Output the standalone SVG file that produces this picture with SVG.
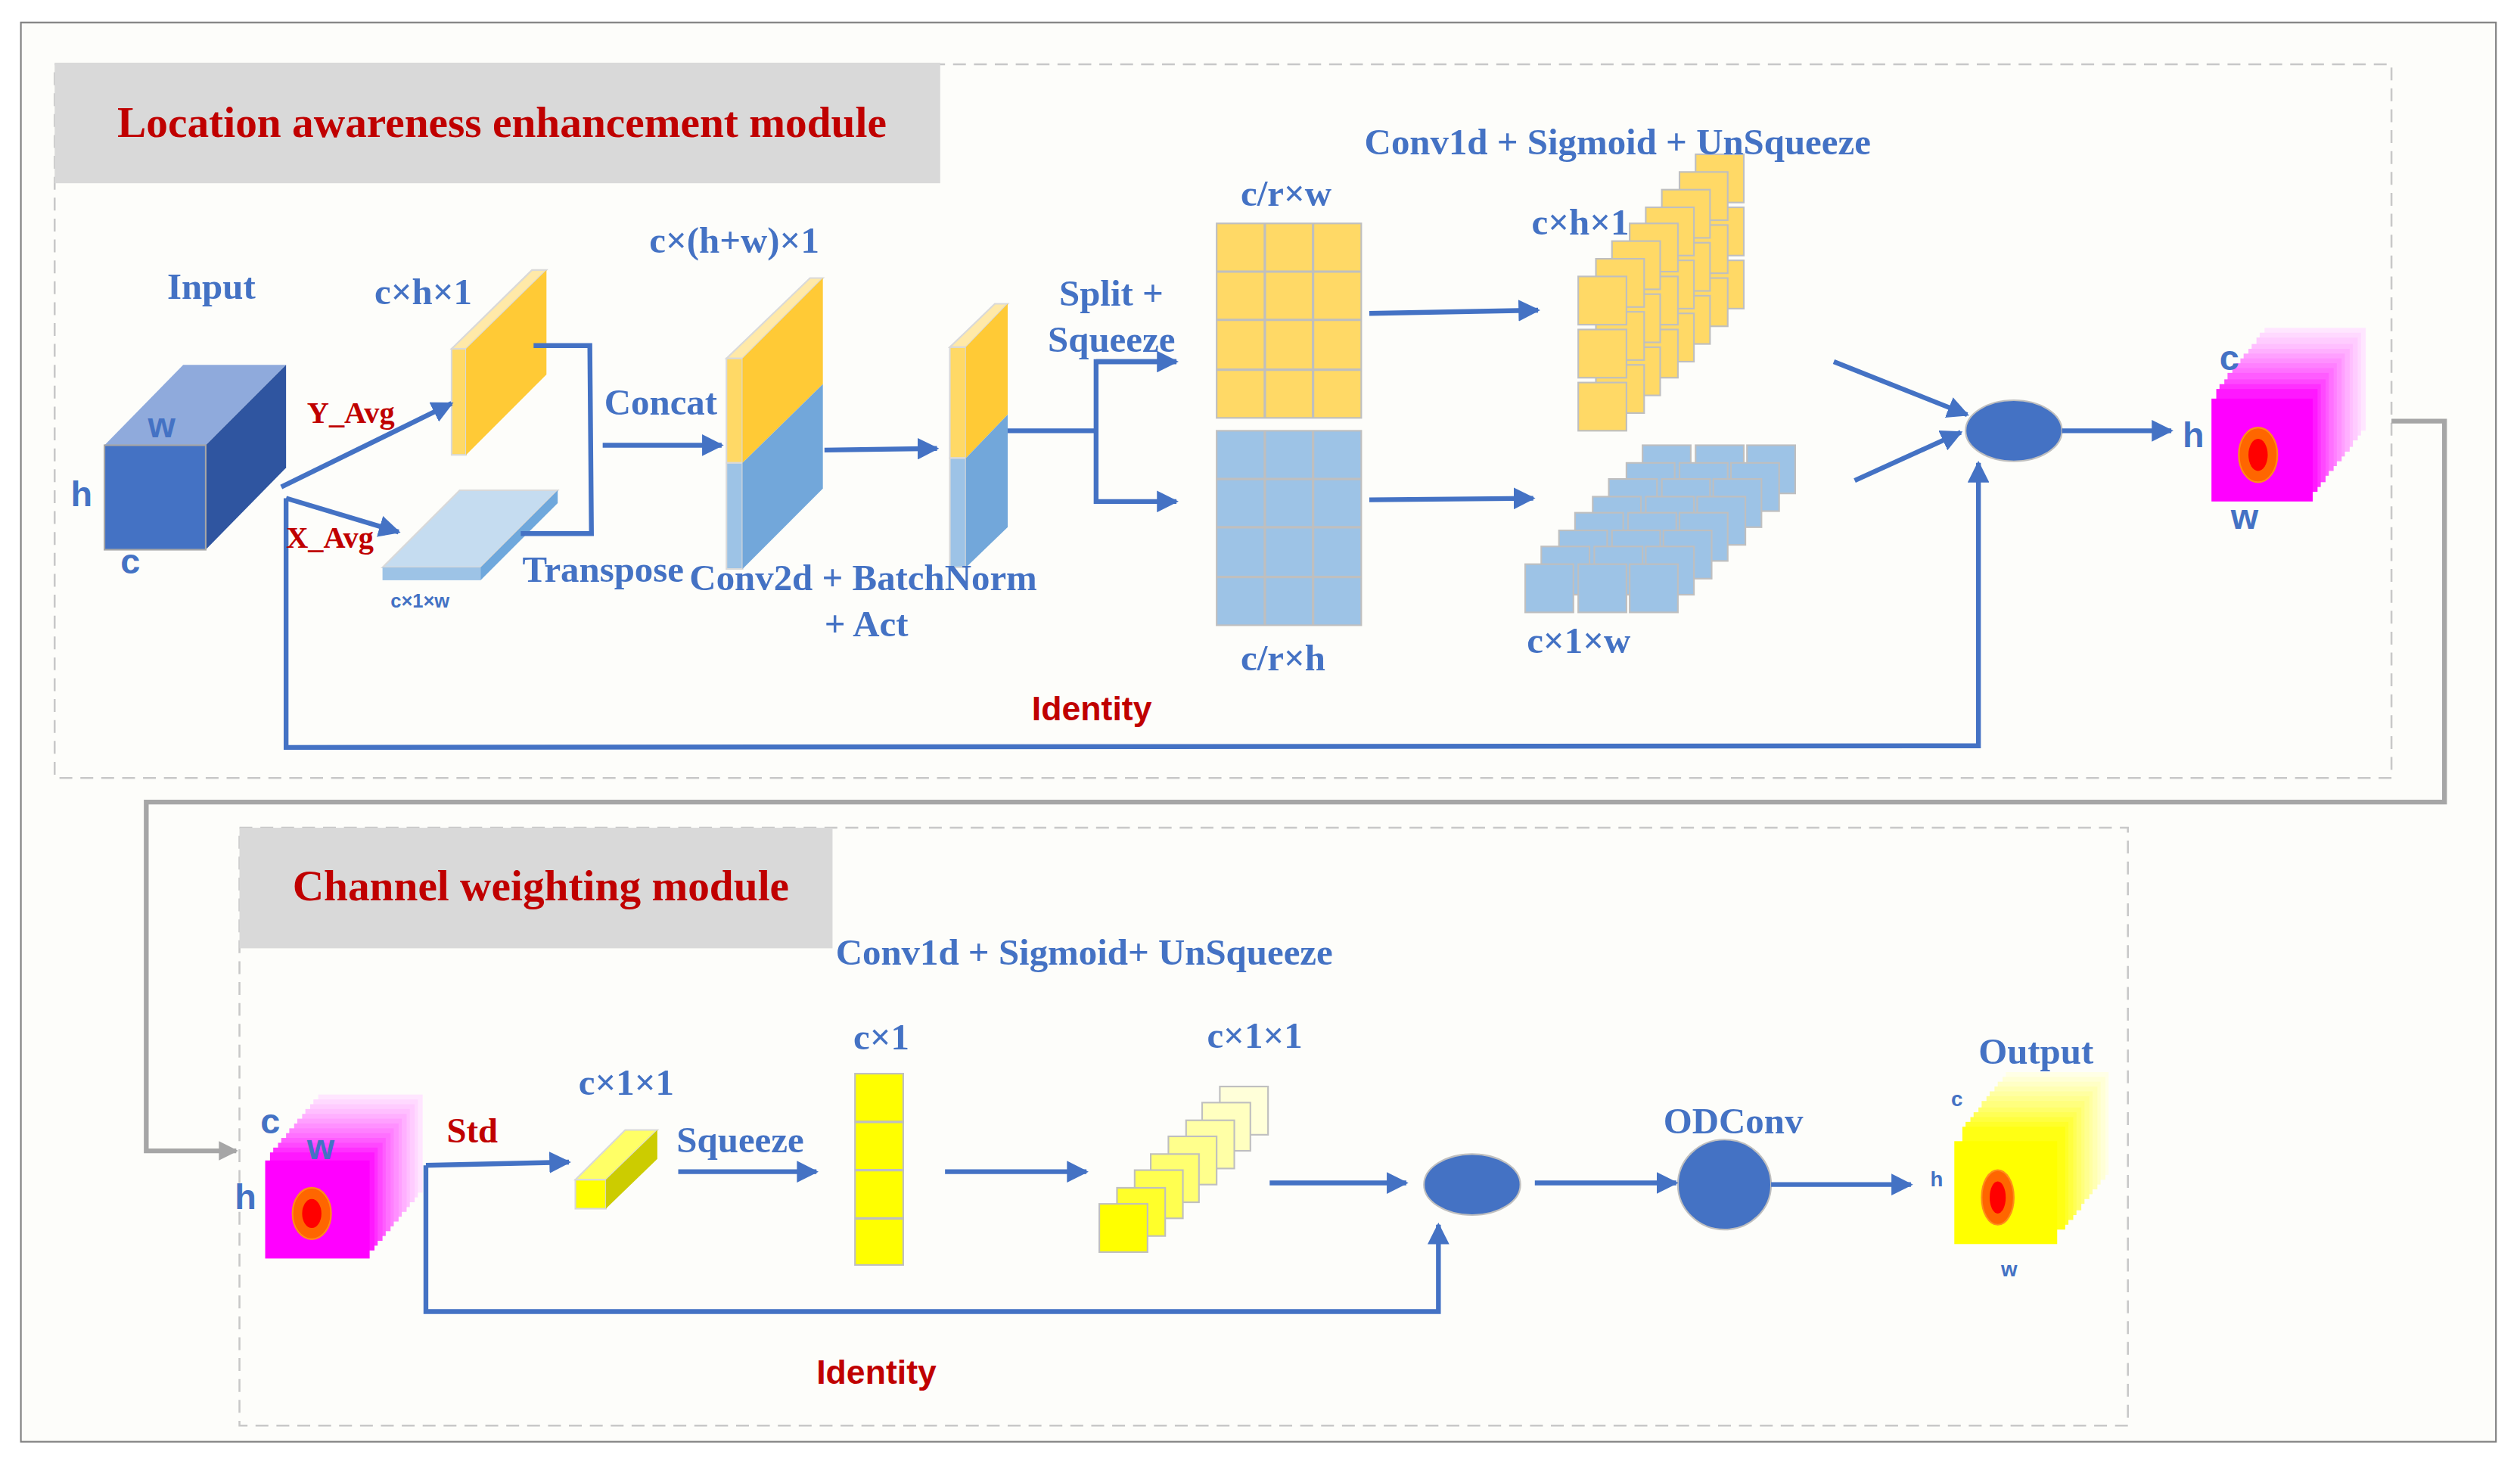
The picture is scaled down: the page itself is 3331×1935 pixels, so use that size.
<svg xmlns="http://www.w3.org/2000/svg" xmlns:xlink="http://www.w3.org/1999/xlink" width="3331" height="1935" viewBox="0 0 3331 1935">
<defs>
<marker id="ah" viewBox="0 0 10 10" refX="9" refY="5" markerWidth="4.5" markerHeight="4.5" orient="auto" markerUnits="strokeWidth"><path d="M0,0 L10,5 L0,10 z" fill="#4472C4"/></marker>
<marker id="ag" viewBox="0 0 10 10" refX="9" refY="5" markerWidth="4" markerHeight="4" orient="auto" markerUnits="strokeWidth"><path d="M0,0 L10,5 L0,10 z" fill="#A6A6A6"/></marker>
<style>
.b{font-family:"Liberation Serif",serif;font-weight:bold;fill:#4472C4;font-size:23px}
.r{font-family:"Liberation Serif",serif;font-weight:bold;fill:#C00000}
.s{font-family:"Liberation Sans",sans-serif;font-weight:bold;fill:#4472C4}
.ln{fill:none;stroke:#4472C4;stroke-width:3}
.dash{fill:none;stroke:#C8C8C8;stroke-width:1.2;stroke-dasharray:8 5}
.yc{fill:#FFD966;stroke:#BFBFBF;stroke-width:1}
.bc{fill:#9DC3E6;stroke:#BFBFBF;stroke-width:1}
</style>
<g id="ycol"><rect class="yc" x="0" y="0" width="30" height="30"/><rect class="yc" x="0" y="33" width="30" height="30"/><rect class="yc" x="0" y="66" width="30" height="30"/></g>
<g id="brow"><rect class="bc" x="0" y="0" width="30" height="30"/><rect class="bc" x="33" y="0" width="30" height="30"/><rect class="bc" x="65" y="0" width="30" height="30"/></g>
</defs>
<rect width="3331" height="1935" fill="#FFFFFF"/>
<g transform="scale(2.1244)">
<rect x="13" y="14" width="1540" height="883" fill="#FDFDFA" stroke="#7F7F7F" stroke-width="1"/>
<rect class="dash" x="34" y="40" width="1454" height="444"/>
<rect class="dash" x="149" y="515" width="1175" height="372"/>
<g id="title1"><rect x="34" y="39" width="551" height="75" fill="#D9D9D9"/><text class="r" x="73" y="85" font-size="27">Location awareness enhancement module</text></g>
<g id="title2"><rect x="149" y="515" width="369" height="75" fill="#D9D9D9"/><text class="r" x="182" y="560" font-size="27">Channel weighting module</text></g>

<g id="input">
<polygon points="65,277 114,227 178,227 128,277" fill="#8FAADC"/>
<polygon points="128,277 178,227 178,291 128,342" fill="#2F55A0"/>
<rect x="65" y="277" width="63" height="65" fill="#4472C4" stroke="#A6A6A6" stroke-width="1"/>
<text class="s" x="92" y="272" font-size="22">w</text><text class="s" x="44" y="315" font-size="22">h</text><text class="s" x="75" y="357" font-size="22">c</text>
<text class="b" x="104" y="186">Input</text>
</g>
<g id="plateY">
<polygon points="281,217 331,168 340,168 290,217" fill="#FFE9A8" stroke="#D9D9D9"/>
<rect x="281" y="217" width="9" height="66" fill="#FFD966" stroke="#D9D9D9"/>
<polygon points="290,217 340,168 340,233 290,283" fill="#FFCA36"/>
<text class="b" x="233" y="189">c×h×1</text>
</g>
<g id="slabX">
<polygon points="238,353 286,305 347,305 299,353" fill="#C5DCF0" stroke="#D9D9D9"/>
<rect x="238" y="353" width="61" height="8" fill="#9DC3E6"/>
<polygon points="299,353 347,305 347,313 299,361" fill="#6FA8DC"/>
<text class="s" x="243" y="378" font-size="12">c×1×w</text>
</g>
<g id="concat">
<polygon points="452,223 504,173 512,173 462,223" fill="#FFE9A8" stroke="#D9D9D9"/>
<rect x="452" y="223" width="10" height="65" fill="#FFD966" stroke="#D9D9D9"/>
<rect x="452" y="288" width="10" height="66" fill="#9DC3E6" stroke="#D9D9D9"/>
<polygon points="462,223 512,173 512,239 462,288" fill="#FFCA36"/>
<polygon points="462,288 512,239 512,304 462,354" fill="#72A7DA"/>
<text class="b" x="404" y="157">c×(h+w)×1</text>
</g>
<g id="conv2d">
<polygon points="591,216 619,189 627,189 601,216" fill="#FFE9A8" stroke="#D9D9D9"/>
<rect x="591" y="216" width="10" height="69" fill="#FFD966" stroke="#D9D9D9"/>
<rect x="591" y="285" width="10" height="68" fill="#9DC3E6" stroke="#D9D9D9"/>
<polygon points="601,216 627,189 627,258 601,285" fill="#FFCA36"/>
<polygon points="601,285 627,258 627,328 601,353" fill="#72A7DA"/>
<text class="b" x="429" y="367">Conv2d + BatchNorm</text><text class="b" x="513" y="396">+ Act</text>
</g>
<g id="gridY">
<rect x="757" y="139" width="90" height="121" fill="#FFD966" stroke="#BFBFBF"/>
<path d="M787,139V260M817,139V260M757,169H847M757,199H847M757,230H847" stroke="#BFBFBF" stroke-width="1.5"/>
<text class="b" x="772" y="128">c/r×w</text>
</g>
<g id="gridB">
<rect x="757" y="268" width="90" height="121" fill="#9DC3E6" stroke="#BFBFBF"/>
<path d="M787,268V389M817,268V389M757,298H847M757,328H847M757,359H847" stroke="#BFBFBF" stroke-width="1.5"/>
<text class="b" x="772" y="417">c/r×h</text>
</g>
<g id="stackY">
<use xlink:href="#ycol" x="1055" y="96"/><use xlink:href="#ycol" x="1045" y="107"/><use xlink:href="#ycol" x="1034" y="118"/><use xlink:href="#ycol" x="1024" y="129"/><use xlink:href="#ycol" x="1014" y="139"/><use xlink:href="#ycol" x="1003" y="150"/><use xlink:href="#ycol" x="993" y="161"/><use xlink:href="#ycol" x="982" y="172"/>
<text class="b" x="953" y="146">c×h×1</text>
</g>
<g id="stackB">
<use xlink:href="#brow" x="1022" y="277"/><use xlink:href="#brow" x="1012" y="288"/><use xlink:href="#brow" x="1001" y="298"/><use xlink:href="#brow" x="991" y="309"/><use xlink:href="#brow" x="980" y="319"/><use xlink:href="#brow" x="970" y="330"/><use xlink:href="#brow" x="959" y="340"/><use xlink:href="#brow" x="949" y="351"/>
<text class="b" x="950" y="406">c×1×w</text>
</g>
<text class="b" x="849" y="96">Conv1d + Sigmoid + UnSqueeze</text>
<g id="mul1"><ellipse cx="1253" cy="268" rx="30" ry="19" fill="#4472C4" stroke="#BFBFBF"/></g>
<g id="cube1">
<rect x="1409" y="204" width="63" height="64" fill="#FFE6FF"/><rect x="1406" y="207" width="63" height="64" fill="#FFD9FF"/><rect x="1404" y="210" width="63" height="64" fill="#FFCCFF"/><rect x="1401" y="214" width="63" height="64" fill="#FFBFFF"/><rect x="1399" y="217" width="63" height="64" fill="#FFB0FF"/><rect x="1396" y="220" width="63" height="64" fill="#FFA0FF"/><rect x="1394" y="223" width="63" height="64" fill="#FF90FF"/><rect x="1391" y="226" width="63" height="64" fill="#FF80FF"/><rect x="1389" y="229" width="63" height="64" fill="#FF70FF"/><rect x="1386" y="232" width="63" height="64" fill="#FF5CFF"/><rect x="1384" y="236" width="63" height="64" fill="#FF48FF"/><rect x="1381" y="239" width="63" height="64" fill="#FF30FF"/><rect x="1379" y="242" width="63" height="64" fill="#FF18FF"/>
<rect x="1376" y="248" width="63" height="64" fill="#FF00FF"/>
<ellipse cx="1405" cy="283" rx="12" ry="17" fill="#FF6600" stroke="#FF8C1A"/><ellipse cx="1405" cy="283" rx="6" ry="10" fill="#FF0000"/>
<text class="s" x="1381" y="230" font-size="22">c</text><text class="s" x="1358" y="278" font-size="22">h</text><text class="s" x="1388" y="329" font-size="22">w</text>
</g>

<g id="cube2">
<rect x="198" y="681" width="65" height="61" fill="#FFE6FF"/><rect x="195" y="684" width="65" height="61" fill="#FFD9FF"/><rect x="193" y="687" width="65" height="61" fill="#FFCCFF"/><rect x="190" y="690" width="65" height="61" fill="#FFBFFF"/><rect x="188" y="693" width="65" height="61" fill="#FFB0FF"/><rect x="185" y="696" width="65" height="61" fill="#FFA0FF"/><rect x="183" y="699" width="65" height="61" fill="#FF90FF"/><rect x="180" y="702" width="65" height="61" fill="#FF80FF"/><rect x="178" y="705" width="65" height="61" fill="#FF70FF"/><rect x="175" y="708" width="65" height="61" fill="#FF5CFF"/><rect x="173" y="711" width="65" height="61" fill="#FF48FF"/><rect x="170" y="714" width="65" height="61" fill="#FF30FF"/><rect x="168" y="717" width="65" height="61" fill="#FF18FF"/>
<rect x="165" y="722" width="65" height="61" fill="#FF00FF"/>
<ellipse cx="194" cy="755" rx="12" ry="16" fill="#FF6600" stroke="#FF8C1A"/><ellipse cx="194" cy="755" rx="6" ry="9" fill="#FF0000"/>
<text class="s" x="162" y="705" font-size="22">c</text><text class="s" x="191" y="721" font-size="22">w</text><text class="s" x="146" y="752" font-size="22">h</text>
</g>
<g id="std"><text class="r" x="278" y="711" font-size="22">Std</text></g>
<g id="bar">
<polygon points="358,734 389,703 409,703 377,734" fill="#FFFF66" stroke="#D9D9D9"/>
<rect x="358" y="734" width="19" height="18" fill="#FFFF00" stroke="#D9D9D9"/>
<polygon points="377,734 409,703 409,721 377,752" fill="#CCCC00"/>
<text class="b" x="360" y="681">c×1×1</text>
</g>
<text class="b" x="421" y="717">Squeeze</text>
<g id="col">
<rect x="532" y="668" width="30" height="119" fill="#FFFF00" stroke="#BFBFBF"/>
<path d="M532,698H562M532,728H562M532,758H562" stroke="#BFBFBF" stroke-width="1.5"/>
<text class="b" x="531" y="653">c×1</text>
</g>
<g id="stackC" stroke="#BFBFBF" stroke-width="1">
<rect x="759" y="676" width="30" height="30" fill="#FFFFD9"/><rect x="748" y="686" width="30" height="30" fill="#FFFFC0"/><rect x="738" y="697" width="30" height="30" fill="#FFFFA6"/><rect x="727" y="707" width="30" height="30" fill="#FFFF8C"/><rect x="716" y="718" width="30" height="30" fill="#FFFF70"/><rect x="706" y="728" width="30" height="30" fill="#FFFF50"/><rect x="695" y="739" width="30" height="30" fill="#FFFF2A"/><rect x="684" y="749" width="30" height="30" fill="#FFFF00"/>
<text class="b" x="751" y="652" stroke="none">c×1×1</text>
</g>
<text class="b" x="520" y="600">Conv1d + Sigmoid+ UnSqueeze</text>
<g id="mul2"><ellipse cx="916" cy="737" rx="30" ry="19" fill="#4472C4" stroke="#BFBFBF"/></g>
<g id="odconv"><ellipse cx="1073" cy="737" rx="29" ry="28" fill="#4472C4" stroke="#BFBFBF"/><text class="b" x="1035" y="705">ODConv</text></g>
<g id="output">
<rect x="1248" y="667" width="64" height="64" fill="#FFFFE6"/><rect x="1246" y="670" width="64" height="64" fill="#FFFFD6"/><rect x="1243" y="673" width="64" height="64" fill="#FFFFC6"/><rect x="1241" y="676" width="64" height="64" fill="#FFFFB4"/><rect x="1238" y="679" width="64" height="64" fill="#FFFFA2"/><rect x="1236" y="682" width="64" height="64" fill="#FFFF90"/><rect x="1233" y="685" width="64" height="64" fill="#FFFF7E"/><rect x="1231" y="689" width="64" height="64" fill="#FFFF6A"/><rect x="1228" y="692" width="64" height="64" fill="#FFFF56"/><rect x="1226" y="695" width="64" height="64" fill="#FFFF40"/><rect x="1223" y="698" width="64" height="64" fill="#FFFF2A"/><rect x="1221" y="701" width="64" height="64" fill="#FFFF14"/>
<rect x="1216" y="710" width="64" height="64" fill="#FFFF00"/>
<ellipse cx="1243" cy="745" rx="10" ry="17" fill="#FF6600" stroke="#FF8C1A"/><ellipse cx="1243" cy="745" rx="5" ry="10" fill="#FF0000"/>
<text class="s" x="1214" y="688" font-size="13">c</text><text class="s" x="1201" y="738" font-size="13">h</text><text class="s" x="1245" y="794" font-size="13">w</text>
<text class="b" x="1231" y="662">Output</text>
</g>

<g id="connectors">
<line class="ln" x1="175" y1="303" x2="281" y2="251" marker-end="url(#ah)"/>
<line class="ln" x1="178" y1="310" x2="248" y2="331" marker-end="url(#ah)"/>
<polyline class="ln" points="332,215 367,215 368,332 324,332"/>
<line class="ln" x1="375" y1="277" x2="449" y2="277" marker-end="url(#ah)"/>
<line class="ln" x1="513" y1="280" x2="583" y2="279" marker-end="url(#ah)"/>
<polyline class="ln" points="627,268 682,268"/>
<polyline class="ln" points="732,225 682,225 682,312 732,312" marker-end="url(#ah)"/>
<line class="ln" x1="682" y1="225" x2="732" y2="225" marker-end="url(#ah)"/>
<line class="ln" x1="852" y1="195" x2="957" y2="193" marker-end="url(#ah)"/>
<line class="ln" x1="852" y1="311" x2="954" y2="310" marker-end="url(#ah)"/>
<line class="ln" x1="1141" y1="225" x2="1224" y2="258" marker-end="url(#ah)"/>
<line class="ln" x1="1154" y1="299" x2="1220" y2="269" marker-end="url(#ah)"/>
<line class="ln" x1="1283" y1="268" x2="1351" y2="268" marker-end="url(#ah)"/>
<polyline class="ln" points="178,310 178,465 1231,464 1231,288" marker-end="url(#ah)"/>
<text class="r" x="642" y="448" font-size="21" style="font-family:'Liberation Sans',sans-serif">Identity</text>
<polyline points="1488,262 1521,262 1521,499 91,499 91,716 147,716" fill="none" stroke="#A6A6A6" stroke-width="3" marker-end="url(#ag)"/>
<line class="ln" x1="265" y1="725" x2="354" y2="723" marker-end="url(#ah)"/>
<polyline class="ln" points="265,725 265,816 895,816 895,762" marker-end="url(#ah)"/>
<text class="r" x="508" y="861" font-size="21" style="font-family:'Liberation Sans',sans-serif">Identity</text>
<line class="ln" x1="422" y1="729" x2="508" y2="729" marker-end="url(#ah)"/>
<line class="ln" x1="588" y1="729" x2="676" y2="729" marker-end="url(#ah)"/>
<line class="ln" x1="790" y1="736" x2="875" y2="736" marker-end="url(#ah)"/>
<line class="ln" x1="955" y1="736" x2="1043" y2="736" marker-end="url(#ah)"/>
<line class="ln" x1="1102" y1="737" x2="1189" y2="737" marker-end="url(#ah)"/>
<text class="r" x="191" y="263" font-size="19">Y_Avg</text>
<text class="r" x="178" y="341" font-size="19">X_Avg</text>
<text class="b" x="376" y="258">Concat</text>
<text class="b" x="325" y="362">Transpose</text>
<text class="b" x="659" y="190">Split +</text>
<text class="b" x="652" y="219">Squeeze</text>
</g>
</g>
</svg>
